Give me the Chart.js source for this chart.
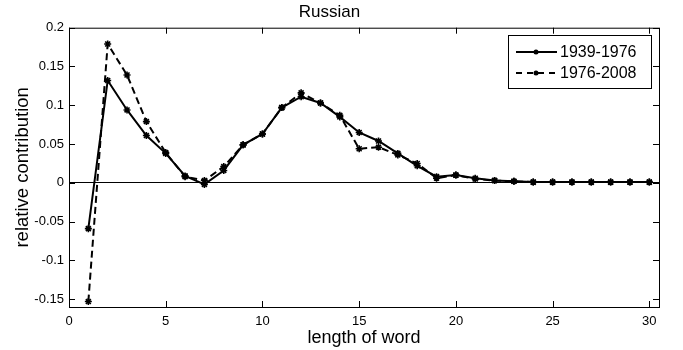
<!DOCTYPE html>
<html>
<head>
<meta charset="utf-8">
<script src="https://cdn.jsdelivr.net/npm/chart.js@4/dist/chart.umd.min.js"></script>
<style>
  html, body { margin: 0; padding: 0; background: #fff; }
  #wrap { width: 683px; height: 350px; }
</style>
</head>
<body>
<div id="wrap"><canvas id="chart" width="683" height="350"></canvas></div>
<script>
// Données
const wordLength = [1, 2, 3, 4, 5, 6, 7, 8, 9, 10, 11, 12, 13, 14, 15,
  16, 17, 18, 19, 20, 21, 22, 23, 24, 25, 26, 27, 28, 29, 30];
const period1 = [-0.059, 0.132, 0.094, 0.061, 0.038, 0.009, -0.002, 0.016, 0.049, 0.063,
  0.097, 0.111, 0.103, 0.085, 0.065, 0.054, 0.038, 0.022, 0.008, 0.010,
  0.006, 0.003, 0.002, 0.001, 0.001, 0.001, 0.001, 0.001, 0.001, 0.001];
const period2 = [-0.153, 0.179, 0.139, 0.079, 0.039, 0.008, 0.003, 0.021, 0.049, 0.063,
  0.097, 0.116, 0.103, 0.087, 0.044, 0.046, 0.036, 0.025, 0.006, 0.010,
  0.005, 0.003, 0.002, 0.001, 0.001, 0.001, 0.001, 0.001, 0.001, 0.001];
const seriesLabels = ['1939-1976', '1976-2008'];
const xTicks = [0, 5, 10, 15, 20, 25, 30];
const yTicks = [-0.15, -0.1, -0.05, 0, 0.05, 0.1, 0.15, 0.2];

const FONT = 'Liberation Sans, Arial, Helvetica, sans-serif';
const DASH = [7, 4];

function toPoints(ys) {
  return wordLength.map((x, i) => ({ x, y: ys[i] }));
}

// Cadre, graduations intérieures (style MATLAB) et légende
const matlabFrame = {
  id: 'matlabFrame',
  afterDraw(chart) {
    const { ctx, chartArea: a, scales } = chart;
    ctx.save();
    ctx.strokeStyle = '#000';
    ctx.lineWidth = 1;
    ctx.strokeRect(a.left + 0.5, a.top + 0.5, a.right - a.left, a.bottom - a.top);
    ctx.beginPath();
    xTicks.forEach(v => {
      const px = Math.round(scales.x.getPixelForValue(v)) + 0.5;
      ctx.moveTo(px, a.bottom); ctx.lineTo(px, a.bottom - 6);
      ctx.moveTo(px, a.top); ctx.lineTo(px, a.top + 6);
    });
    yTicks.forEach(v => {
      const py = Math.round(scales.y.getPixelForValue(v)) + 0.5;
      ctx.moveTo(a.left, py); ctx.lineTo(a.left + 6, py);
      ctx.moveTo(a.right, py); ctx.lineTo(a.right - 6, py);
    });
    ctx.stroke();

    // légende
    const bx = 508, by = 35, bw = 143, bh = 53;
    ctx.fillStyle = '#fff';
    ctx.fillRect(bx, by, bw, bh);
    ctx.strokeRect(bx + 0.5, by + 0.5, bw, bh);
    ctx.font = '16px ' + FONT;
    ctx.textBaseline = 'middle';
    chart.data.datasets.forEach((ds, i) => {
      const y = by + 17 + i * 21;
      ctx.beginPath();
      ctx.setLineDash(i === 0 ? [] : [6, 5]);
      ctx.lineWidth = 2;
      ctx.moveTo(516, y); ctx.lineTo(557, y);
      ctx.stroke();
      ctx.setLineDash([]);
      ctx.beginPath();
      ctx.arc(536, y, 2.5, 0, Math.PI * 2);
      ctx.fillStyle = '#000';
      ctx.fill();
      ctx.fillText(ds.label, 560, y + 1);
    });
    ctx.restore();
  }
};

new Chart(document.getElementById('chart'), {
  type: 'line',
  data: {
    datasets: [
      {
        label: seriesLabels[0],
        data: toPoints(period1),
        borderColor: '#000',
        backgroundColor: '#000',
        borderWidth: 2,
        pointStyle: 'star',
        pointRadius: 3.5,
        pointBorderWidth: 1.6,
        tension: 0
      },
      {
        label: seriesLabels[1],
        data: toPoints(period2),
        borderColor: '#000',
        backgroundColor: '#000',
        borderWidth: 2,
        borderDash: DASH,
        pointStyle: 'star',
        pointRadius: 3.5,
        pointBorderWidth: 1.6,
        tension: 0
      }
    ]
  },
  options: {
    responsive: false,
    animation: false,
    layout: { padding: { right: 24 } },
    plugins: {
      legend: { display: false },
      tooltip: { enabled: false },
      title: {
        display: true,
        text: 'Russian',
        color: '#000',
        font: { family: FONT, size: 17, weight: 'normal', lineHeight: 1.1 },
        padding: { top: 3, bottom: 6 }
      }
    },
    scales: {
      x: {
        type: 'linear',
        min: 0,
        max: 30.5,
        afterBuildTicks: s => { s.ticks = xTicks.map(v => ({ value: v })); },
        afterFit: s => { s.height = 43; },
        grid: { display: false, drawTicks: false },
        border: { display: false },
        ticks: {
          color: '#000',
          padding: 7,
          font: { family: FONT, size: 13 },
          callback: v => String(v)
        },
        title: {
          display: true,
          text: 'length of word',
          color: '#000',
          font: { family: FONT, size: 18 },
          padding: { top: 0, bottom: 1 }
        }
      },
      y: {
        min: -0.16,
        max: 0.2,
        afterBuildTicks: s => { s.ticks = yTicks.map(v => ({ value: v })); },
        afterFit: s => { s.width = 69; },
        grid: {
          drawTicks: false,
          color: ctx => (ctx.tick && ctx.tick.value === 0 ? '#000' : 'rgba(0,0,0,0)'),
          lineWidth: 1
        },
        border: { display: false },
        ticks: {
          color: '#000',
          padding: 5,
          font: { family: FONT, size: 13 },
          callback: v => String(Math.round(v * 100) / 100)
        },
        title: {
          display: true,
          text: 'relative contribution',
          color: '#000',
          font: { family: FONT, size: 18.5 },
          padding: { top: 12, bottom: 0 }
        }
      }
    }
  },
  plugins: [matlabFrame]
});
</script>
</body>
</html>
